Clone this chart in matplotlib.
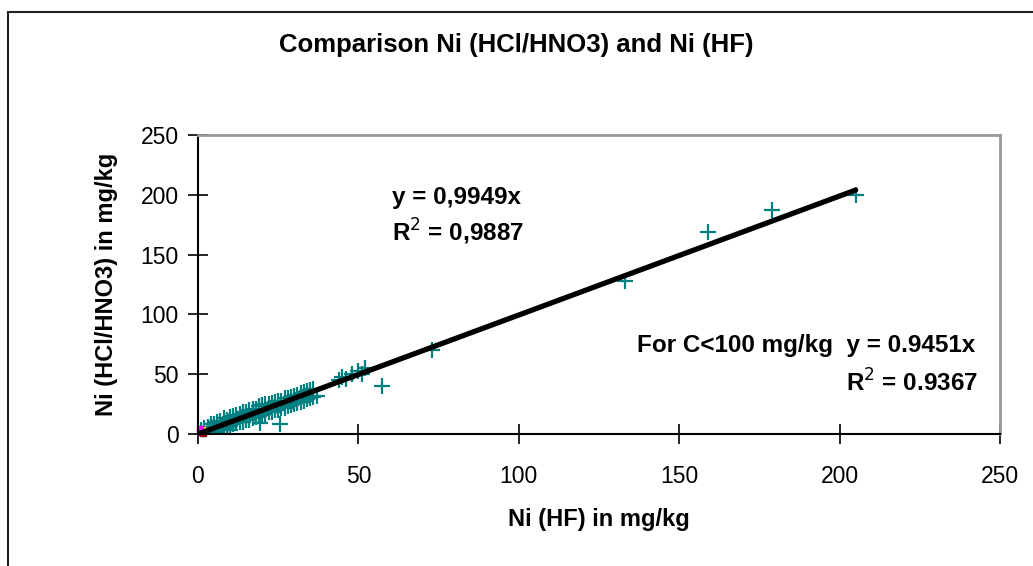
import numpy as np
import matplotlib.pyplot as plt
from matplotlib.patches import Rectangle

# Ni values (mg/kg): HF digestion vs aqua regia
ni_hf = [1, 2, 3, 4, 5, 6, 7, 8, 9, 10, 11, 12, 13, 14, 15, 16, 17, 18, 19, 20,
         21, 22, 23, 24, 25, 26, 27, 28, 29, 30, 31, 32, 33, 34, 35, 36,
         2, 3, 4, 5, 6, 7, 8, 9, 10, 11, 12, 13, 14, 15, 16, 17, 18, 19, 20, 21,
         22, 23, 24, 25, 26, 27, 28, 29, 30, 31, 32, 33, 34, 35, 36, 37,
         7.4, 10, 19.3, 25.6,
         44, 45, 46, 48, 50, 51, 52, 57.3, 73, 133, 159, 179, 205]
ni_aqua = [3, 5, 6, 8, 8, 10, 11, 13, 12, 14, 15, 16, 17, 18, 18, 20, 21, 21, 23, 24,
           25, 25, 26, 27, 28, 28, 30, 30, 31, 32, 33, 34, 35, 36, 37, 38,
           0, 1, 2, 2, 3, 4, 5, 6, 7, 8, 9, 10, 10, 12, 12, 13, 14, 15, 16, 17,
           18, 18, 20, 20, 22, 22, 23, 24, 25, 26, 27, 28, 29, 30, 31, 32,
           0, 3, 9.5, 8.5,
           45, 48, 46, 50, 53, 50, 55, 40, 70, 128, 169, 187, 200]

# other series sitting at the origin
other_x = [0.8, 1.5, 1.2, 0.5]
other_y = [2, 0.5, 3.5, 4]
other_c = ['#800080', '#990000', '#ffff00', '#ff00ff']

slope = 0.9949
fit_x = np.array([0, 205])

fig = plt.figure(figsize=(10.33, 5.66), dpi=100)
plt.rcParams['font.family'] = ['Liberation Sans', 'DejaVu Sans']

fig.patches.append(Rectangle((8 / 1033, -0.1), 1.2, 1 - 12 / 566 + 0.1,
                             transform=fig.transFigure, fill=False,
                             edgecolor='#222222', linewidth=1.5))

ax = fig.add_axes([198 / 1033, 1 - 434 / 566, 802 / 1033, 299 / 566])
ax.plot(ni_hf, ni_aqua, '+', color='#008080', markersize=11, markeredgewidth=1.6)
for ox, oy, oc in zip(other_x, other_y, other_c):
    ax.plot(ox, oy, 's', color=oc, markersize=4, clip_on=False)
ax.plot(fit_x, slope * fit_x, color='black', linewidth=3.8, solid_capstyle='round')

ax.set_xlim(0, 250)
ax.set_ylim(0, 250)
ax.set_xticks(range(0, 251, 50))
ax.set_yticks(range(0, 251, 50))
ax.tick_params(direction='inout', length=14, width=1.2, labelsize=16.5)
ax.tick_params(axis='x', pad=15)
ax.tick_params(axis='y', pad=7)
ax.spines['left'].set_linewidth(1.5)
ax.spines['bottom'].set_linewidth(1.5)
ax.spines['top'].set_color('#999999')
ax.spines['right'].set_color('#999999')
ax.spines['top'].set_linewidth(2)
ax.spines['right'].set_linewidth(2)

ax.set_xlabel('Ni (HF) in mg/kg', fontsize=17, fontweight='bold', labelpad=15)
ax.set_ylabel('Ni (HCl/HNO3) in mg/kg', fontsize=17, fontweight='bold', labelpad=16)
fig.text(0.5, 1 - 45 / 566, 'Comparison Ni (HCl/HNO3) and Ni (HF)', ha='center', va='center',
         fontsize=18.5, fontweight='bold')

ax.text(60.5, 198, 'y = 0,9949x', fontsize=17.5, fontweight='bold', va='center')
ax.text(60.5, 169, 'R$^2$ = 0,9887', fontsize=17.5, fontweight='bold', va='center')
ax.text(242.2, 74.4, 'For C<100 mg/kg  y = 0.9451x', fontsize=17.5, fontweight='bold',
        ha='right', va='center')
ax.text(243.1, 42.6, 'R$^2$ = 0.9367', fontsize=17.5, fontweight='bold', ha='right', va='center')

fig.savefig('out.png', dpi=100)
